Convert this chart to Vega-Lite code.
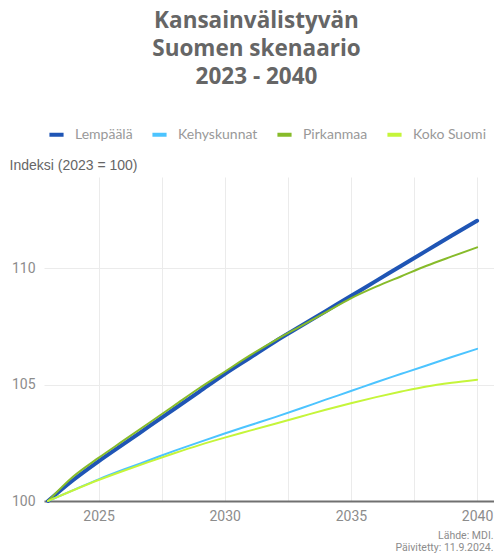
{
  "$schema": "https://vega.github.io/schema/vega-lite/v6.json",
  "width": 450,
  "height": 324,
  "autosize": "none",
  "padding": {"left": 44, "top": 177, "right": 0, "bottom": 52},
  "background": "white",
  "title": {
    "text": ["Kansainvälistyvän", "Suomen skenaario", "2023 - 2040"],
    "anchor": "middle",
    "frame": "bounds",
    "font": "Open Sans",
    "fontSize": 22.5,
    "fontWeight": "bold",
    "color": "#666666",
    "lineHeight": 28,
    "offset": 37,
    "dx": 5
  },
  "config": {
    "view": {"stroke": null},
    "font": "Lato"
  },
  "data": {
    "values": [
      {"v": "Lempäälä", "year": 2023, "index": 100},
      {"v": "Lempäälä", "year": 2024, "index": 100.9},
      {"v": "Lempäälä", "year": 2025, "index": 101.7},
      {"v": "Lempäälä", "year": 2026, "index": 102.45},
      {"v": "Lempäälä", "year": 2027, "index": 103.2},
      {"v": "Lempäälä", "year": 2028, "index": 103.95},
      {"v": "Lempäälä", "year": 2029, "index": 104.7},
      {"v": "Lempäälä", "year": 2030, "index": 105.45},
      {"v": "Lempäälä", "year": 2031, "index": 106.15},
      {"v": "Lempäälä", "year": 2032, "index": 106.85},
      {"v": "Lempäälä", "year": 2033, "index": 107.5},
      {"v": "Lempäälä", "year": 2034, "index": 108.15},
      {"v": "Lempäälä", "year": 2035, "index": 108.8},
      {"v": "Lempäälä", "year": 2036, "index": 109.45},
      {"v": "Lempäälä", "year": 2037, "index": 110.1},
      {"v": "Lempäälä", "year": 2038, "index": 110.75},
      {"v": "Lempäälä", "year": 2039, "index": 111.4},
      {"v": "Lempäälä", "year": 2040, "index": 112.03},
      {"v": "Kehyskunnat", "year": 2023, "index": 100},
      {"v": "Kehyskunnat", "year": 2024, "index": 100.47},
      {"v": "Kehyskunnat", "year": 2025, "index": 100.93},
      {"v": "Kehyskunnat", "year": 2026, "index": 101.35},
      {"v": "Kehyskunnat", "year": 2027, "index": 101.75},
      {"v": "Kehyskunnat", "year": 2028, "index": 102.15},
      {"v": "Kehyskunnat", "year": 2029, "index": 102.53},
      {"v": "Kehyskunnat", "year": 2030, "index": 102.9},
      {"v": "Kehyskunnat", "year": 2031, "index": 103.25},
      {"v": "Kehyskunnat", "year": 2032, "index": 103.6},
      {"v": "Kehyskunnat", "year": 2033, "index": 103.97},
      {"v": "Kehyskunnat", "year": 2034, "index": 104.35},
      {"v": "Kehyskunnat", "year": 2035, "index": 104.72},
      {"v": "Kehyskunnat", "year": 2036, "index": 105.1},
      {"v": "Kehyskunnat", "year": 2037, "index": 105.46},
      {"v": "Kehyskunnat", "year": 2038, "index": 105.82},
      {"v": "Kehyskunnat", "year": 2039, "index": 106.18},
      {"v": "Kehyskunnat", "year": 2040, "index": 106.53},
      {"v": "Pirkanmaa", "year": 2023, "index": 100},
      {"v": "Pirkanmaa", "year": 2024, "index": 101.05},
      {"v": "Pirkanmaa", "year": 2025, "index": 101.85},
      {"v": "Pirkanmaa", "year": 2026, "index": 102.6},
      {"v": "Pirkanmaa", "year": 2027, "index": 103.35},
      {"v": "Pirkanmaa", "year": 2028, "index": 104.1},
      {"v": "Pirkanmaa", "year": 2029, "index": 104.85},
      {"v": "Pirkanmaa", "year": 2030, "index": 105.55},
      {"v": "Pirkanmaa", "year": 2031, "index": 106.25},
      {"v": "Pirkanmaa", "year": 2032, "index": 106.9},
      {"v": "Pirkanmaa", "year": 2033, "index": 107.5},
      {"v": "Pirkanmaa", "year": 2034, "index": 108.1},
      {"v": "Pirkanmaa", "year": 2035, "index": 108.7},
      {"v": "Pirkanmaa", "year": 2036, "index": 109.2},
      {"v": "Pirkanmaa", "year": 2037, "index": 109.65},
      {"v": "Pirkanmaa", "year": 2038, "index": 110.1},
      {"v": "Pirkanmaa", "year": 2039, "index": 110.5},
      {"v": "Pirkanmaa", "year": 2040, "index": 110.89},
      {"v": "Koko Suomi", "year": 2023, "index": 100},
      {"v": "Koko Suomi", "year": 2024, "index": 100.46},
      {"v": "Koko Suomi", "year": 2025, "index": 100.9},
      {"v": "Koko Suomi", "year": 2026, "index": 101.3},
      {"v": "Koko Suomi", "year": 2027, "index": 101.68},
      {"v": "Koko Suomi", "year": 2028, "index": 102.05},
      {"v": "Koko Suomi", "year": 2029, "index": 102.4},
      {"v": "Koko Suomi", "year": 2030, "index": 102.72},
      {"v": "Koko Suomi", "year": 2031, "index": 103.02},
      {"v": "Koko Suomi", "year": 2032, "index": 103.32},
      {"v": "Koko Suomi", "year": 2033, "index": 103.62},
      {"v": "Koko Suomi", "year": 2034, "index": 103.92},
      {"v": "Koko Suomi", "year": 2035, "index": 104.2},
      {"v": "Koko Suomi", "year": 2036, "index": 104.46},
      {"v": "Koko Suomi", "year": 2037, "index": 104.7},
      {"v": "Koko Suomi", "year": 2038, "index": 104.92},
      {"v": "Koko Suomi", "year": 2039, "index": 105.08},
      {"v": "Koko Suomi", "year": 2040, "index": 105.21}
    ]
  },
  "mark": {"type": "line", "strokeCap": "round", "strokeJoin": "round", "interpolate": "monotone", "clip": false},
  "encoding": {
    "x": {
      "field": "year",
      "type": "quantitative",
      "scale": {"domain": [2022.84, 2040.67], "nice": false, "zero": false},
      "axis": {
        "values": [2025, 2027.5, 2030, 2032.5, 2035, 2037.5, 2040],
        "labelExpr": "datum.value % 5 == 0 ? datum.label : ''",
        "format": "d",
        "grid": true,
        "gridColor": "#ebebeb",
        "gridWidth": 1,
        "ticks": false,
        "domain": true,
        "domainColor": "#707070",
        "domainWidth": 2,
        "labelFont": "Roboto",
        "labelFontSize": 14,
        "labelColor": "#8c8c8c",
        "labelPadding": 8,
        "labelFlush": false,
        "title": ["Lähde: MDI.", "Päivitetty: 11.9.2024."],
        "titleFont": "Roboto",
        "titleFontSize": 10.5,
        "titleFontWeight": "normal",
        "titleColor": "#8c8c8c",
        "titleAnchor": "end",
        "titleAlign": "right",
        "titlePadding": 7,
        "titleLineHeight": 12,
        "titleX": 449
      }
    },
    "y": {
      "field": "index",
      "type": "quantitative",
      "scale": {"domain": [100, 113.91], "nice": false, "zero": false},
      "axis": {
        "values": [100, 105, 110],
        "grid": true,
        "gridColor": "#ebebeb",
        "ticks": false,
        "domain": false,
        "labelFont": "Roboto",
        "labelFontSize": 14,
        "labelColor": "#8c8c8c",
        "labelPadding": 9,
        "title": "Indeksi (2023 = 100)",
        "titleFont": "Liberation Sans",
        "titleFontSize": 14,
        "titleFontWeight": "normal",
        "titleColor": "#666666",
        "titleAngle": 0,
        "titleAlign": "left",
        "titleBaseline": "middle",
        "titleX": -35,
        "titleY": -12
      }
    },
    "color": {
      "field": "v",
      "type": "nominal",
      "sort": ["Lempäälä", "Kehyskunnat", "Pirkanmaa", "Koko Suomi"],
      "scale": {
        "domain": ["Lempäälä", "Kehyskunnat", "Pirkanmaa", "Koko Suomi"],
        "range": ["#1f55b5", "#4cc4ff", "#87bb2a", "#c5f53a"]
      },
      "legend": {
        "title": null,
        "orient": "none",
        "legendX": 3,
        "legendY": -52,
        "direction": "horizontal",
        "symbolType": "stroke",
        "symbolStrokeWidth": 4,
        "symbolSize": 200,
        "labelFont": "Lato",
        "labelFontSize": 14,
        "labelColor": "#999999",
        "columnPadding": 11,
        "symbolOffset": 0,
        "labelOffset": 9
      }
    },
    "strokeWidth": {
      "condition": {"test": "datum.v === 'Lempäälä'", "value": 4},
      "value": 2
    }
  }
}
